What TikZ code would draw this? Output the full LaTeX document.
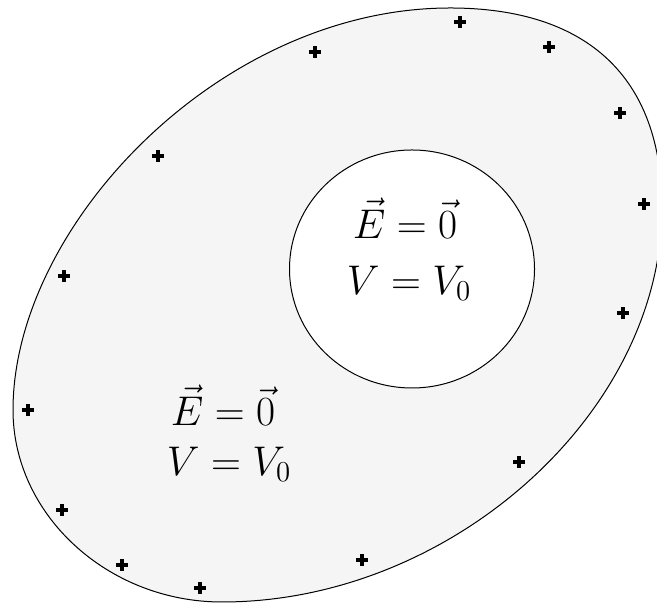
\documentclass[tikz,border=0pt]{standalone}
\usepackage{amsmath}
\tikzset{
  conductor/.style={draw=black, line width=0.5pt, fill=gray!8},
  cavity/.style={draw=black, line width=0.5pt, fill=white},
  field/.style={font=\fontsize{19.5}{23}\selectfont, inner sep=0pt},
  charge/.pic={\draw[line width=1.8pt] (-6,0) -- (6,0) (0,-6) -- (0,6);}
}
\begin{document}
\begin{tikzpicture}[x=0.5pt, y=0.5pt]
    \useasboundingbox (0,0) rectangle (657,603);

    % Extreme points of the conductor outline
    \coordinate (top) at (450,595);
    \coordinate (right) at (662,395);
    \coordinate (bottom) at (222,1);
    \coordinate (left) at (13,193);

    % Draw the conductor (egg-shaped outline) and the empty cavity inside it
    \draw[conductor] (top) .. controls (588,595) and (662,525) .. (right)
        .. controls (662,191) and (452,1) .. (bottom)
        .. controls (108,1) and (13,88) .. (left)
        .. controls (13,377) and (220,595) .. (top) -- cycle;
    \draw[cavity] (412,334) ellipse [x radius=61.25pt, y radius=59.5pt];

    % Surface charges on the outer boundary
    \foreach \px/\py in {460/581, 549/556, 315/551, 620/490, 158/447, 644/399, 64/327,
                         623/290, 28/193, 519/141, 62/93, 122/38, 362/43, 200/15} {
        \pic at (\px,\py) {charge};
    }

    % Field and potential inside the cavity
    \node[field] (Ein) at (405,385) {$\vec{E} = \vec{0}$};
    \node[field] (Vin) at (409,320) {$V = V_0$};

    % Field and potential in the conductor
    \node[field] (Econd) at (223,198) {$\vec{E} = \vec{0}$};
    \node[field] (Vcond) at (229,139) {$V = V_0$};
\end{tikzpicture}
\end{document}
